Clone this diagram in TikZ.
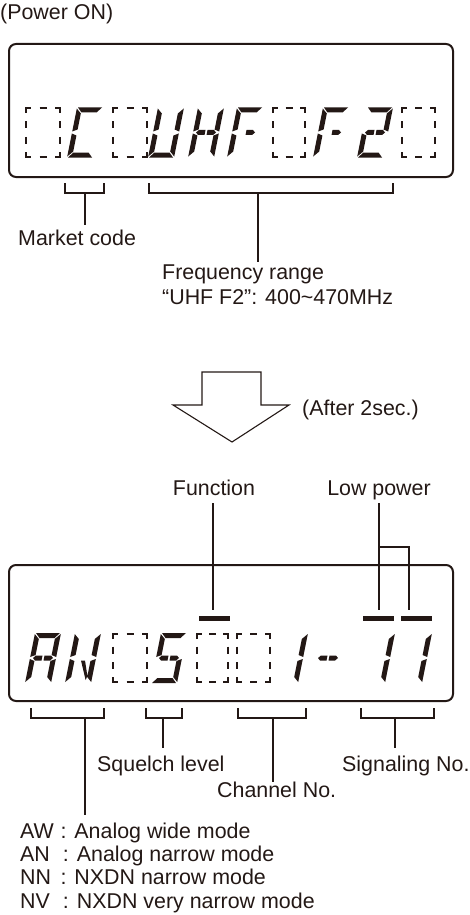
\documentclass[tikz,border=0pt]{standalone}
\usepackage{fontspec}
\setmainfont{Liberation Sans}
\definecolor{ink}{RGB}{35,24,21}
% segment outlines in a local cell (u right, v up), W=26, H=50
\def\sga{(1,50) -- (25,50) -- (20.5,45) -- (5.5,45) -- cycle}
\def\sgd{(1,0) -- (25,0) -- (20.5,5) -- (5.5,5) -- cycle}
\def\sgf{(0,49) -- (5,44) -- (5,28) -- (0,26) -- cycle}
\def\sge{(0,1) -- (5,6) -- (5,22) -- (0,24) -- cycle}
\def\sgb{(26,49) -- (21,44) -- (21,28) -- (26,26) -- cycle}
\def\sgc{(26,1) -- (21,6) -- (21,22) -- (26,24) -- cycle}
\def\sgg{(3,25) -- (5.5,27.5) -- (12,27.5) -- (12,22.5) -- (5.5,22.5) -- cycle}
\def\sgh{(23,25) -- (20.5,27.5) -- (14,27.5) -- (14,22.5) -- (20.5,22.5) -- cycle}
\def\sgn{(11.5,22.5) -- (15.5,22.5) -- (21,7) -- (20,3) -- cycle}
\newcommand\lcd[3]{\begin{scope}[shift={(#1,#2)},y=1pt,xslant=0.2]\fill[ink] #3;\end{scope}}
\newcommand\dbox[4]{%
  \draw[dbx] (#1,#2+5) -- (#1,#2) -- (#1+5,#2) (#1+#3-5,#2) -- (#1+#3,#2) -- (#1+#3,#2+5)
   (#1,#2+#4-5) -- (#1,#2+#4) -- (#1+5,#2+#4) (#1+#3-5,#2+#4) -- (#1+#3,#2+#4) -- (#1+#3,#2+#4-5)
   (#1+#3/2-3.5,#2) -- (#1+#3/2+3.5,#2) (#1+#3/2-3.5,#2+#4) -- (#1+#3/2+3.5,#2+#4)
   (#1,#2+0.338*#4-3.5) -- (#1,#2+0.338*#4+3.5) (#1,#2+0.662*#4-3.5) -- (#1,#2+0.662*#4+3.5)
   (#1+#3,#2+0.338*#4-3.5) -- (#1+#3,#2+0.338*#4+3.5) (#1+#3,#2+0.662*#4-3.5) -- (#1+#3,#2+0.662*#4+3.5);}
\begin{document}
\begin{tikzpicture}[x=1pt,y=-1pt,
  txt/.style={inner sep=0pt,text=ink,font=\fontsize{21.4pt}{23.3pt}\selectfont},
  frame/.style={draw=ink,line width=2pt,rounded corners=7pt,inner sep=0pt},
  ln/.style={draw=ink,line width=1.1pt},
  dbx/.style={draw=ink,line width=2pt},
  bar/.style={fill=ink,inner sep=0pt,minimum width=31pt,minimum height=5pt}]
\useasboundingbox (0,0) rectangle (470,915);

% ---------- top display ----------
\node[txt,anchor=base west] (pwr) at (0,20) {(Power ON)};
\node[frame,minimum width=444pt,minimum height=133pt] (disp1) at (231,110.5) {};
\dbox{26}{108}{34}{49}
\lcd{67}{157.5}{\sga\sgf\sge\sgd}
\dbox{113}{108}{34}{49}
\lcd{148}{157.5}{\sgf\sge\sgd\sgb\sgc}
\lcd{188}{157.5}{\sgf\sge\sgb\sgc\sgg\sgh}
\lcd{227}{157.5}{\sga\sgf\sge\sgh}
\dbox{273}{108}{32}{49}
\lcd{313}{157.5}{\sga\sgf\sge\sgh}
\lcd{357}{157.5}{\sga\sgb\sgg\sgh\sge\sgd}
\dbox{402}{108}{33}{49}

% brackets top
\node[txt,anchor=base west] (mkt) at (18,245) {Market code};
\node[txt,anchor=base west] (frq1) at (162,279) {Frequency range};
\node[txt,anchor=base west] (frq2) at (162,304) {“UHF F2”: 400\textasciitilde 470MHz};
\coordinate (mkL) at (65,183); \coordinate (mkR) at (104,183);
\coordinate (mkS) at (85,193); \coordinate (mkE) at (85,225);
\draw[ln] (mkL) |- (mkR |- mkS) -- (mkR);
\draw[ln] (mkS) -- (mkE);
\coordinate (fqL) at (149,183); \coordinate (fqR) at (393,183);
\coordinate (fqS) at (258,193); \coordinate (fqE) at (258,262);
\draw[ln] (fqL) |- (fqR |- fqS) -- (fqR);
\draw[ln] (fqS) -- (fqE);

% ---------- arrow ----------
\draw[ink,line width=1.1pt,line join=miter] (202,372) -- (261,372) -- (261,405) -- (289,405) -- (232,442) -- (173,405) -- (202,405) -- cycle;
\node[txt,anchor=base west] (aft) at (302,415) {(After 2sec.)};

% ---------- bottom display ----------
\node[txt,anchor=base] (fn) at (214,495) {Function};
\node[txt,anchor=base] (lp) at (379,495) {Low power};
\node[frame,minimum width=444pt,minimum height=136pt] (disp2) at (231,633) {};
\node[bar] (fbar) at (214.5,618.5) {};
\node[bar] (lbar1) at (378.5,618.5) {};
\node[bar] (lbar2) at (416,618.5) {};
\coordinate (fnT) at (213,503); \coordinate (fnB) at (213,610);
\draw[ln] (fnT) -- (fnB);
\coordinate (lpT) at (379,503); \coordinate (lpB) at (379,610);
\coordinate (lpJ) at (379,547); \coordinate (lpR) at (409,610);
\draw[ln] (lpT) -- (lpB);
\draw[ln] (lpJ) -| (lpR);

\lcd{25}{683}{\sga\sgb\sgc\sge\sgf\sgg\sgh}
\lcd{65}{683}{\sgf\sge\sgb\sgc\sgn}
\dbox{113}{634}{34}{48}
\lcd{151}{683}{\sga\sgf\sgg\sgh\sgc\sgd}
\dbox{197}{634}{31}{48}
\dbox{237}{634}{33}{48}
\lcd{272}{683}{\sgb\sgc}
\lcd{310}{683}{\sgg\sgh}
\lcd{359}{683}{\sgb\sgc}
\lcd{396}{683}{\sgb\sgc}

% brackets bottom
\node[txt,anchor=base west] (sq) at (97,771) {Squelch level};
\node[txt,anchor=base west] (sig) at (342,771) {Signaling No.};
\node[txt,anchor=base west] (ch) at (217,797) {Channel No.};
\coordinate (m1L) at (31,708); \coordinate (m1R) at (104,708);
\coordinate (m1S) at (85,718); \coordinate (m1E) at (85,815);
\draw[ln] (m1L) |- (m1R |- m1S) -- (m1R);
\draw[ln] (m1S) -- (m1E);
\coordinate (sqL) at (146,708); \coordinate (sqR) at (182,708);
\coordinate (sqS) at (163,718); \coordinate (sqE) at (163,748);
\draw[ln] (sqL) |- (sqR |- sqS) -- (sqR);
\draw[ln] (sqS) -- (sqE);
\coordinate (chL) at (238,708); \coordinate (chR) at (306,708);
\coordinate (chS) at (273,718); \coordinate (chE) at (273,782);
\draw[ln] (chL) |- (chR |- chS) -- (chR);
\draw[ln] (chS) -- (chE);
\coordinate (sgL) at (361,708); \coordinate (sgR) at (434,708);
\coordinate (sgS) at (395,718); \coordinate (sgE) at (395,748);
\draw[ln] (sgL) |- (sgR |- sgS) -- (sgR);
\draw[ln] (sgS) -- (sgE);

% legend
\node[txt,anchor=base west] (lg1) at (20,838) {\makebox[40.4pt][l]{AW}: Analog wide mode};
\node[txt,anchor=base west] (lg2) at (20,861.3) {\makebox[42.8pt][l]{AN}: Analog narrow mode};
\node[txt,anchor=base west] (lg3) at (20,884.6) {\makebox[40.4pt][l]{NN}: NXDN narrow mode};
\node[txt,anchor=base west] (lg4) at (20,908) {\makebox[42.8pt][l]{NV}: NXDN very narrow mode};
\end{tikzpicture}
\end{document}
